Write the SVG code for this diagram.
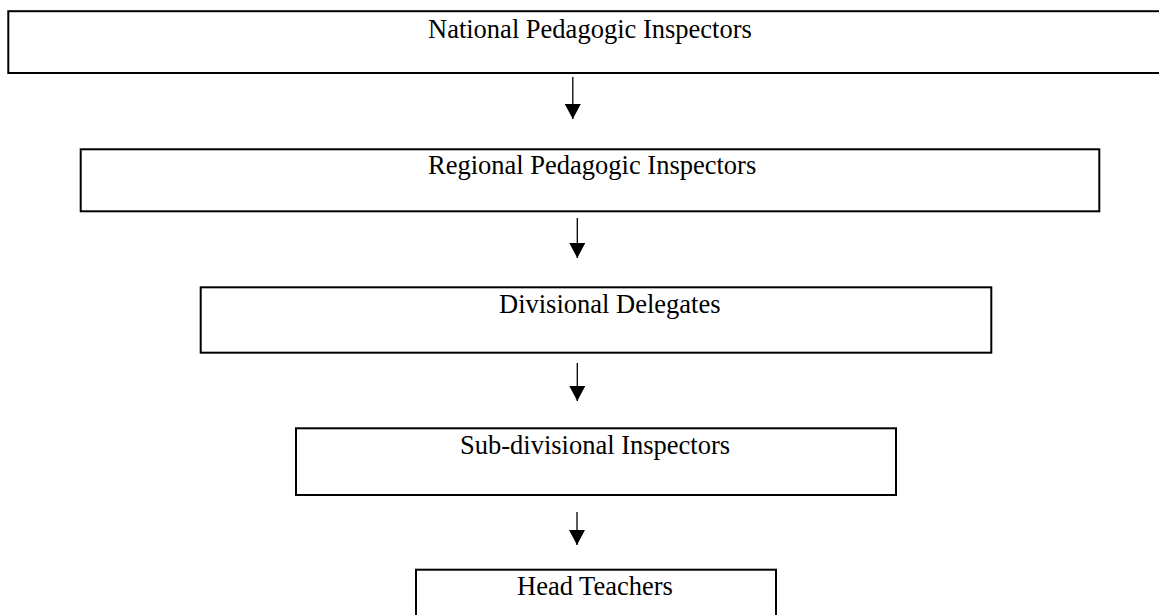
<svg xmlns="http://www.w3.org/2000/svg" width="1159" height="615" viewBox="0 0 1159 615">
  <style>
    .box { fill: #ffffff; stroke: #000000; stroke-width: 2; }
    .label { font-family: "Liberation Serif", "Times New Roman", serif; font-size: 26.5px; fill: #000000; }
    .conn { stroke: #000000; stroke-width: 1.3; fill: none; marker-end: url(#arrow); }
  </style>
  <defs>
    <marker id="arrow" viewBox="0 0 15 16" markerWidth="15" markerHeight="16" refX="15" refY="8" orient="auto" markerUnits="userSpaceOnUse">
      <path d="M0,0 L15,8 L0,16 z" fill="#000000"/>
    </marker>
  </defs>
  <rect width="1159" height="615" fill="#ffffff"/>
  <g id="national">
    <rect class="box" x="8.3" y="11.2" width="1160" height="61.8"/>
    <text class="label" x="428" y="37.5">National Pedagogic Inspectors</text>
  </g>
  <g id="regional">
    <rect class="box" x="80.7" y="149.3" width="1018.6" height="62"/>
    <text class="label" x="428" y="174">Regional Pedagogic Inspectors</text>
  </g>
  <g id="divisional">
    <rect class="box" x="200.7" y="287.3" width="790.6" height="65.4"/>
    <text class="label" x="499" y="313">Divisional Delegates</text>
  </g>
  <g id="subdivisional">
    <rect class="box" x="296" y="428.3" width="600" height="66.7"/>
    <text class="label" x="460" y="454">Sub-divisional Inspectors</text>
  </g>
  <g id="headteachers">
    <rect class="box" x="416" y="569.7" width="360" height="60"/>
    <text class="label" x="517" y="595">Head Teachers</text>
  </g>
  <g id="connectors">
    <line class="conn" x1="572.8" y1="77" x2="572.8" y2="119"/>
    <line class="conn" x1="577.3" y1="218" x2="577.3" y2="258"/>
    <line class="conn" x1="577.3" y1="363" x2="577.3" y2="401"/>
    <line class="conn" x1="577" y1="512" x2="577" y2="545"/>
  </g>
</svg>
